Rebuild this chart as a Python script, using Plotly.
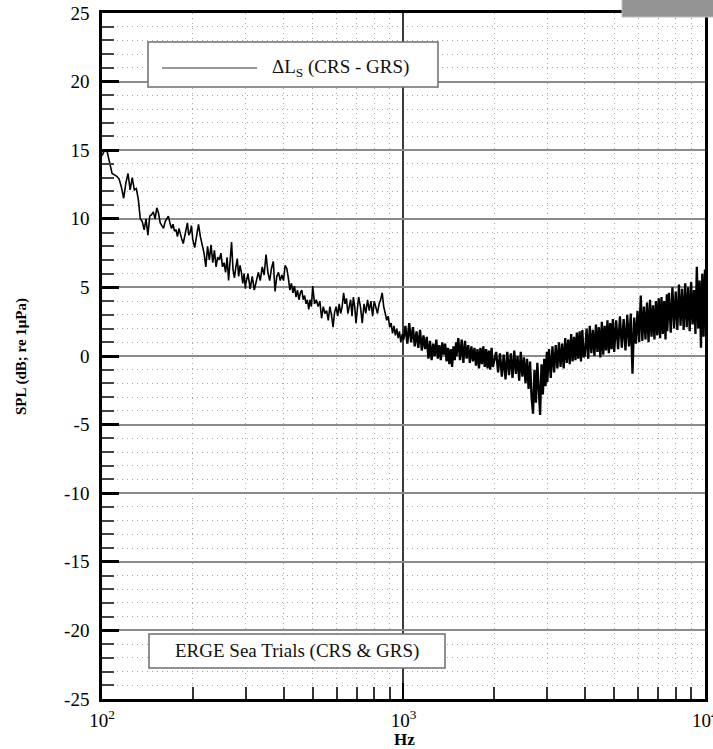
import plotly.graph_objects as go

# ---- frequency bins (Hz) and SPL difference values (dB) ----
freq_a = list(range(100, 200, 2))
spl_a = [14.6, 15.0, 14.9, 14.0, 13.3, 13.2, 13.1, 12.9, 12.3, 11.5,
         12.6, 13.3, 12.1, 13.0, 12.1, 12.2, 11.4, 10.0, 9.8, 9.2,
         10.0, 8.8, 10.2, 10.3, 10.5, 10.0, 10.8, 10.4, 9.7, 9.5,
         9.3, 9.8, 10.0, 10.2, 9.7, 9.3, 9.6, 9.1, 9.2, 8.7,
         9.3, 8.8, 8.5, 8.2, 8.7, 9.2, 9.7, 8.8, 9.0, 9.5]

freq_b = list(range(200, 300, 3))
spl_b = [8.5, 7.9, 8.9, 9.6, 8.7, 8.2, 7.5, 6.5, 8.0, 7.0,
         8.1, 6.8, 7.7, 6.5, 7.2, 7.0, 7.5, 6.5, 6.8, 6.1,
         7.2, 5.5, 6.8, 8.3, 6.3, 5.7, 6.5, 7.1, 5.8, 6.6,
         6.1, 5.3, 6.0, 4.9]

freq_c = list(range(300, 500, 5))
spl_c = [5.3, 6.0, 4.9, 5.8, 4.8, 5.5, 6.1, 5.5, 6.5, 5.9,
         7.4, 6.1, 5.5, 6.4, 6.9, 4.7, 5.8, 6.1, 5.5, 5.9,
         5.5, 6.6, 6.4, 5.7, 4.8, 5.3, 4.6, 5.1, 4.3, 4.8,
         4.1, 4.6, 4.8, 4.1, 4.4, 3.8, 4.1, 3.4, 4.1, 3.6]

freq_d = list(range(500, 700, 7))
spl_d = [5.1, 3.8, 4.1, 3.6, 4.0, 2.75, 3.6, 3.1, 3.3, 2.6,
         3.6, 3.0, 2.1, 3.2, 3.6, 2.9, 3.8, 3.1, 3.6, 4.6,
         3.8, 4.2, 3.1, 3.6, 4.1, 2.9, 4.3, 3.6, 2.4]

freq_e = list(range(700, 1000, 10))
spl_e = [3.0, 4.3, 3.6, 2.4, 3.8, 3.1, 4.1, 3.3, 4.0, 2.9,
         4.0, 3.6, 3.1, 3.8, 4.1, 4.6, 3.6, 3.1, 2.6, 2.9,
         2.1, 2.4, 1.65, 2.2, 1.5, 2.0, 1.3, 1.8, 1.0, 1.6]

freq_f = list(range(1000, 1500, 15))
spl_f = [1.2, 2.2, 0.9, 2.4, 1.0, 2.1, 0.7, 1.8, 0.6, 1.9,
         0.4, 1.5, 0.5, 1.4, -0.2, 1.1, -0.3, 0.9, 0.0, 1.2,
         -0.2, 0.8, -0.3, 1.0, 0.1, 0.9, -0.4, 0.6, -0.6, 0.5,
         -0.8, 0.7, -0.3, 1.0]

freq_g = list(range(1500, 2000, 20))
spl_g = [0.0, 1.3, -0.3, 1.2, -0.5, 1.1, -0.2, 0.8, -0.5, 0.7,
         -0.4, 0.6, -0.7, 0.5, -0.9, 0.6, -0.6, 0.7, -0.8, 0.5,
         -0.9, 0.4, -1.0, 0.6, -0.8]

freq_h = list(range(2000, 3000, 30))
spl_h = [-0.3, 0.3, -1.2, 0.2, -1.5, 0.1, -1.7, 0.3, -1.4, 0.2,
         -1.6, 0.4, -1.3, 0.0, -1.8, 0.3, -1.5, -0.1, -2.0, -0.2,
         -2.4, -0.4, -3.0, -4.2, -1.0, -3.4, -0.5, -3.0, -4.3, -0.6,
         -2.8, -0.2, -2.2, 0.3]

freq_i = list(range(3000, 4000, 40))
spl_i = [-1.9, 0.5, -1.6, 0.7, -1.2, 0.8, -0.9, 1.0, -0.8, 0.9,
         -0.9, 1.3, -0.5, 1.2, -0.6, 1.6, -0.4, 1.4, -0.3, 1.7,
         -0.2, 1.8, -0.4, 1.9, -0.1]

freq_j = list(range(4000, 5000, 50))
spl_j = [0.1, 2.0, -0.2, 2.2, 0.2, 1.9, 0.0, 2.3, 0.3, 2.1,
         -0.1, 2.5, 0.1, 2.2, 0.4, 2.6, 0.2, 2.4, 0.5, 2.7]

freq_k = list(range(5000, 7500, 75))
spl_k = [0.3, 2.6, 0.5, 2.9, 0.6, 2.7, 0.4, 3.0, 0.7, 3.1,
         -1.3, 2.8, 0.9, 3.3, 1.0, 4.4, 1.1, 3.6, 1.2, 3.9,
         1.0, 4.1, 1.4, 3.7, 1.2, 4.0, 1.5, 4.2, 1.3, 4.3,
         1.6, 4.0, 1.2, 4.5]

freq_l = list(range(7500, 10001, 100))
spl_l = [1.8, 4.6, 1.7, 5.0, 2.0, 4.7, 1.9, 5.2, 2.2, 4.9,
         1.9, 5.3, 2.1, 5.0, 1.8, 5.4, 2.3, 4.8, 1.6, 6.5,
         2.0, 5.5, 0.6, 6.0, 1.4, 6.3]

low_parts = [(freq_a, spl_a), (freq_b, spl_b), (freq_c, spl_c),
             (freq_d, spl_d), (freq_e, spl_e)]
high_parts = [(freq_f, spl_f), (freq_g, spl_g), (freq_h, spl_h),
              (freq_i, spl_i), (freq_j, spl_j), (freq_k, spl_k), (freq_l, spl_l)]
for fp, sp in low_parts + high_parts:
    assert len(fp) == len(sp), (fp[0], len(fp), len(sp))

freq_low = [f for fp, _ in low_parts for f in fp]
spl_low = [v for _, sp in low_parts for v in sp]
freq_high = [f for fp, _ in high_parts for f in fp]
spl_high = [v for _, sp in high_parts for v in sp]
# join the two halves of the same spectrum
freq_low.append(freq_high[0])
spl_low.append(spl_high[0])

# ---- tick labels ----
y_ticks = [-25, -20, -15, -10, -5, 0, 5, 10, 15, 20, 25]
y_labels = ["-25", "-20", "-15", "-10", "-5", "0", "5", "10", "15", "20", "25"]
x_ticks = [100, 1000, 10000]
x_labels = ["10<sup>2</sup>", "10<sup>3</sup>", "10<sup>4</sup>"]
x_minor = [200, 300, 400, 500, 600, 700, 800, 900,
           2000, 3000, 4000, 5000, 6000, 7000, 8000, 9000]

series_name = "ΔL<sub>S</sub> (CRS - GRS)"
info_text = "ERGE Sea Trials (CRS & GRS)"
x_title = "Hz"
y_title = "SPL (dB; re 1μPa)"

SERIF = "Liberation Serif, Times New Roman, serif"
MINOR_DASH = "1px,4px"

fig = go.Figure()
fig.add_trace(go.Scatter(x=freq_low, y=spl_low, mode="lines",
                         line=dict(color="black", width=1.6),
                         name=series_name, showlegend=False))
fig.add_trace(go.Scatter(x=freq_high, y=spl_high, mode="lines",
                         line=dict(color="black", width=2.3),
                         name=series_name, showlegend=False))

fig.update_layout(
    width=713, height=749,
    margin=dict(l=102, r=8, t=13, b=50),
    plot_bgcolor="white", paper_bgcolor="white",
    showlegend=False,
    font=dict(family=SERIF, color="black"),
    xaxis=dict(
        type="log", range=[2, 4.0002],
        tickmode="array", tickvals=x_ticks, ticktext=x_labels,
        ticks="inside", ticklen=16, tickwidth=2, tickcolor="black",
        showgrid=True, gridcolor="#3a3a3a", gridwidth=1.5,
        showline=True, linecolor="black", linewidth=2.5, mirror=True,
        zeroline=False, automargin=False,
        tickfont=dict(family=SERIF, size=19, color="black"),
        ticklabelstandoff=2, ticklabeloverflow="allow",
        minor=dict(tickmode="array", tickvals=x_minor, ticks="inside",
                   ticklen=12, tickwidth=1.5, tickcolor="#333",
                   showgrid=True, gridcolor="#a8a8a8", gridwidth=1,
                   griddash=MINOR_DASH),
    ),
    yaxis=dict(
        range=[-25, 25],
        tickmode="array", tickvals=y_ticks, ticktext=y_labels,
        ticks="inside", ticklen=17, tickwidth=2.5, tickcolor="black",
        showgrid=True, gridcolor="#8a8a8a", gridwidth=1.5,
        showline=True, linecolor="black", linewidth=2.5, mirror=True,
        zeroline=False, automargin=False,
        tickfont=dict(family=SERIF, size=19, color="black"),
        ticklabelstandoff=6,
        minor=dict(dtick=1, tick0=0, ticks="inside", ticklen=12,
                   tickwidth=1.5, tickcolor="#444",
                   showgrid=True, gridcolor="#a8a8a8", gridwidth=1,
                   griddash=MINOR_DASH),
    ),
)

def px_x(p):
    return (p - 102) / 603.0

def px_y(p):
    return (699 - p) / 686.0

shapes = [
    # series key box
    dict(type="rect", xref="paper", yref="paper",
         x0=px_x(148), x1=px_x(438), y0=px_y(87), y1=px_y(42),
         fillcolor="white", line=dict(color="#6e6e6e", width=1.5), layer="above"),
    dict(type="line", xref="paper", yref="paper",
         x0=px_x(162), x1=px_x(257), y0=px_y(68), y1=px_y(68),
         line=dict(color="#333", width=1.2), layer="above"),
    # info box
    dict(type="rect", xref="paper", yref="paper",
         x0=px_x(149), x1=px_x(445), y0=px_y(668), y1=px_y(634),
         fillcolor="white", line=dict(color="#6e6e6e", width=1.5), layer="above"),
    # grey tab top right
    dict(type="rect", xref="paper", yref="paper",
         x0=px_x(622), x1=px_x(716), y0=px_y(17), y1=px_y(-3),
         fillcolor="#949494", line=dict(color="#bdbdbd", width=1), layer="above"),
]
fig.update_layout(shapes=shapes)

annotations = [
    dict(text=series_name, xref="paper", yref="paper",
         x=px_x(270), y=px_y(68), xanchor="left", yanchor="middle",
         showarrow=False, font=dict(family=SERIF, size=19, color="#111")),
    dict(text=info_text, xref="paper", yref="paper",
         x=px_x(297), y=px_y(651), xanchor="center", yanchor="middle",
         showarrow=False, font=dict(family=SERIF, size=19, color="#111")),
    dict(text="<b>" + x_title + "</b>", xref="paper", yref="paper",
         x=px_x(404), y=px_y(739), xanchor="center", yanchor="middle",
         showarrow=False, font=dict(family=SERIF, size=17, color="black")),
    dict(text="<b>" + y_title + "</b>", xref="paper", yref="paper",
         x=px_x(21), y=px_y(357), xanchor="center", yanchor="middle",
         textangle=-90, showarrow=False,
         font=dict(family=SERIF, size=15, color="black")),
]
fig.update_layout(annotations=annotations)

fig.write_html("out.html",
               config={"displayModeBar": False},
               post_script="document.body.style.margin='0';document.body.style.overflow='hidden';")
